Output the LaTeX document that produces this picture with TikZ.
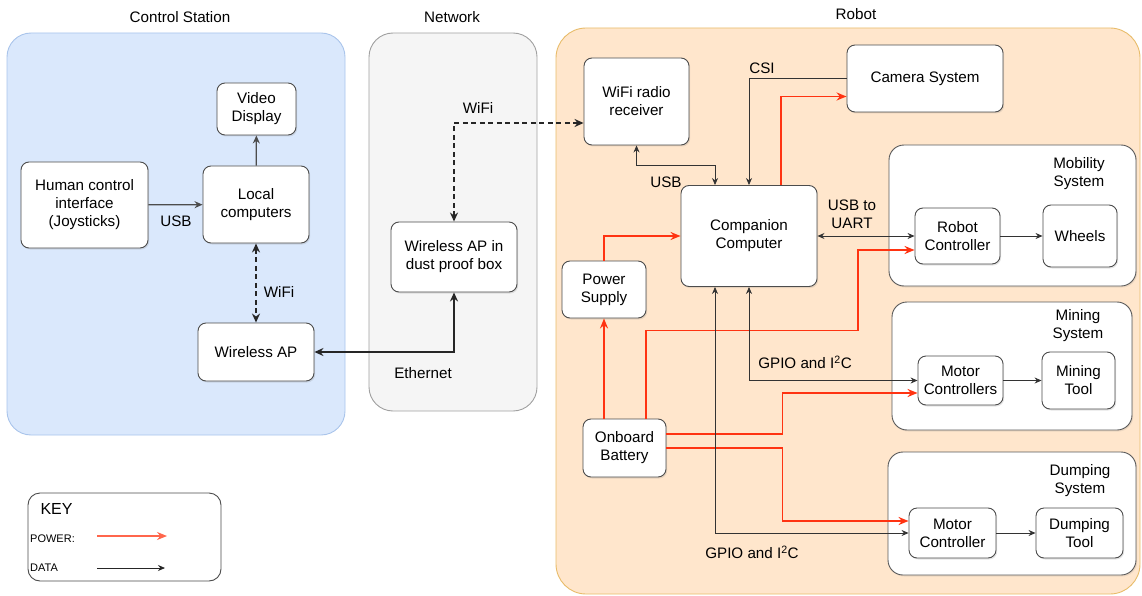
\documentclass[tikz,border=0pt]{standalone}
\usepackage{fontspec}
\setmainfont{Liberation Sans}
\usetikzlibrary{arrows.meta, shadows}
\definecolor{stationblue}{HTML}{DAE8FC}
\definecolor{stationedge}{HTML}{A9C4EB}
\definecolor{netgrey}{HTML}{F5F5F5}
\definecolor{netedge}{HTML}{A0A0A0}
\definecolor{robotorange}{HTML}{FFE6CC}
\definecolor{robotedge}{HTML}{E8BC6A}
\definecolor{powerred}{RGB}{255, 51, 17}
\definecolor{dataline}{HTML}{333333}

\begin{document}
\begin{tikzpicture}[x=1pt, y=-1pt, font=\fontsize{15.2}{18}\selectfont,
    unit/.style={draw=black!70, fill=white, rounded corners=8, align=center, line width=0.9pt, drop shadow={shadow xshift=1.2pt, shadow yshift=-1.5pt, opacity=0.2}},
    subsys/.style={draw=black!65, fill=white, rounded corners=15, line width=0.9pt, drop shadow={shadow xshift=1.2pt, shadow yshift=-1.5pt, opacity=0.15}},
    zone/.style={rounded corners=24, line width=0.9pt},
    data/.style={draw=dataline, line width=0.8pt, arrows={-Stealth[length=7pt, width=6pt]}},
    data2/.style={draw=dataline, line width=0.8pt, arrows={Stealth[length=7pt, width=6pt]-Stealth[length=7pt, width=6pt]}},
    power/.style={draw=powerred, line width=1.6pt, arrows={-Stealth[length=10pt, width=8pt]}},
    link/.style={draw=black!85, line width=1.6pt, arrows={Stealth[length=9pt, width=8pt]-Stealth[length=9pt, width=8pt]}},
    wifi/.style={link, dash pattern=on 5pt off 3.5pt},
    ctrl/.style={draw=black!70, line width=1.3pt, arrows={-Stealth[length=8pt, width=7pt]}}]
    \useasboundingbox (0,0) rectangle (1142,596);

    \node[zone, draw=stationedge, fill=stationblue, minimum width=338, minimum height=402] (station) at (176,234) {};
    \node[zone, draw=netedge, fill=netgrey, minimum width=168, minimum height=378] (network) at (453,222) {};
    \node[zone, rounded corners=30, draw=robotedge, fill=robotorange, minimum width=584, minimum height=566] (robot) at (848,311) {};
    \node (stationtitle) at (180,17) {Control Station};
    \node (networktitle) at (452,17) {Network};
    \node (robottitle) at (856,14) {Robot};

    \node[unit, minimum width=79, minimum height=52] (video) at (256.5,109) {Video\\Display};
    \node[unit, minimum width=127, minimum height=86] (hci) at (84.5,205) {Human control\\interface\\(Joysticks)};
    \node[unit, minimum width=106, minimum height=77] (local) at (256,204.5) {Local\\computers};
    \node[unit, minimum width=116, minimum height=58] (ap) at (256,352) {Wireless AP};
    \node[unit, minimum width=126, minimum height=70] (dust) at (454,257) {Wireless AP in\\dust proof box};

    \node[subsys, minimum width=247, minimum height=141] (mobility) at (1012.5,215.5) {};
    \node[subsys, minimum width=240, minimum height=128] (mining) at (1012,366) {};
    \node[subsys, minimum width=248, minimum height=123] (dumping) at (1012,513.5) {};
    \node[align=center] (mobilitytitle) at (1079,174) {Mobility\\System};
    \node[align=center] (miningtitle) at (1078,326) {Mining\\System};
    \node[align=center] (dumpingtitle) at (1080,481) {Dumping\\System};

    \node[unit, minimum width=105, minimum height=87] (radio) at (636.5,101.5) {WiFi radio\\receiver};
    \node[unit, minimum width=156, minimum height=67] (cam) at (925,78.5) {Camera System};
    \node[unit, minimum width=136, minimum height=101] (comp) at (749,236) {Companion\\Computer};
    \node[unit, minimum width=84, minimum height=57] (psu) at (604,289.5) {Power\\Supply};
    \node[unit, minimum width=83, minimum height=58] (batt) at (624.5,448) {Onboard\\Battery};
    \node[unit, minimum width=85, minimum height=56] (rc) at (957.5,236) {Robot\\Controller};
    \node[unit, minimum width=74, minimum height=62] (wheels) at (1080,236) {Wheels};
    \node[unit, minimum width=85, minimum height=49] (mcs) at (960.5,380.5) {Motor\\Controllers};
    \node[unit, minimum width=73, minimum height=57] (mtool) at (1078.5,380.5) {Mining\\Tool};
    \node[unit, minimum width=87, minimum height=50] (mc) at (952.5,533) {Motor\\Controller};
    \node[unit, minimum width=87, minimum height=50] (dtool) at (1079.5,533) {Dumping\\Tool};

    \draw[ctrl] (hci) -- (local);
    \draw[ctrl] (local) -- (video);
    \draw[wifi] (local) -- (ap);
    \draw[link] (ap.east) -| (dust.south);
    \draw[wifi] (dust.north) |- ([yshift=-21.5pt]radio.west);
    \node (lblusb) at (176,221) {USB};
    \node (lblwifi) at (279,292) {WiFi};
    \node (lbleth) at (423,373) {Ethernet};
    \node (lblwifitwo) at (478,108) {WiFi};

    \draw[data2] (radio.south) -- ++(0,20) -| ([xshift=-34pt]comp.north);
    \draw[data] (cam.west) -| (comp.north);
    \draw[power] ([xshift=32pt]comp.north) |- ([yshift=-18pt]cam.west);
    \draw[power] (psu.north) |- (comp.west);
    \draw[data2] (comp.east) -- (rc.west);
    \draw[data] (rc) -- (wheels);
    \draw[power] (batt.north -| psu.south) -- (psu.south);
    \draw[power] ([xshift=21.5pt]batt.north) -- ++(0,-88) -- ++(212,0) |- ([yshift=-14pt]rc.west);
    \draw[data2] (comp.south) |- (mcs.west);
    \draw[power] ([yshift=14pt]batt.east) -- ++(116,0) |- ([yshift=-12.5pt]mcs.west);
    \draw[power] (batt.east) -- ++(116,0) |- ([yshift=12pt]mc.west);
    \draw[data2] ([xshift=-34pt]comp.south) |- (mc.west);
    \draw[data] (mcs) -- (mtool);
    \draw[data] (mc) -- (dtool);
    \node (lblusbtwo) at (666,182) {USB};
    \node (lblcsi) at (762,68) {CSI};
    \node[align=center] (lbluart) at (852,214) {USB to\\UART};
    \node (lblgpio) at (805,362) {GPIO and I\textsuperscript{2}C};
    \node (lblgpiotwo) at (752,552) {GPIO and I\textsuperscript{2}C};

    \node[draw=black!70, fill=white, rounded corners=12, line width=0.9pt, minimum width=193, minimum height=88] (keybox) at (124.5,537) {};
    \node[anchor=west, font=\fontsize{16}{18}\selectfont] (keytitle) at (37,509) {KEY};
    \node[anchor=west, font=\fontsize{11}{13}\selectfont, inner sep=1pt] (keypower) at (29,539) {POWER:};
    \node[anchor=west, font=\fontsize{11}{13}\selectfont, inner sep=1pt] (keydata) at (29,568) {DATA};
    \coordinate (pwrstart) at (97,536);
    \coordinate (pwrend) at (167,536);
    \coordinate (datstart) at (97,568);
    \coordinate (datend) at (165,568);
    \draw[power, draw=powerred!75, line width=1.2pt] (pwrstart) -- (pwrend);
    \draw[data, draw=black!85] (datstart) -- (datend);
\end{tikzpicture}
\end{document}
